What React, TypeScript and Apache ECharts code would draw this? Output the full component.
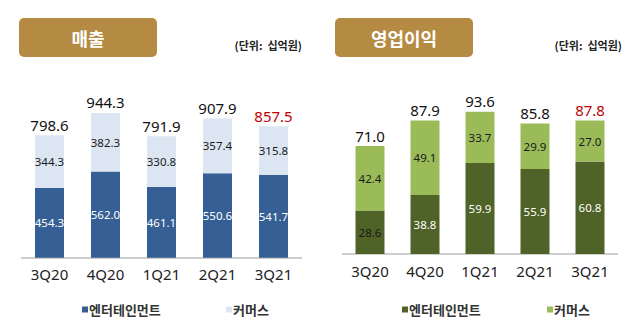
import React, { useEffect, useRef } from "react";
import * as echarts from "echarts";

const quarters = ["3Q20", "4Q20", "1Q21", "2Q21", "3Q21"];
const salesEnt = [454.3, 562.0, 461.1, 550.6, 541.7];
const salesCom = [344.3, 382.3, 330.8, 357.4, 315.8];
const salesTotal = [798.6, 944.3, 791.9, 907.9, 857.5];
const opEnt = [28.6, 38.8, 59.9, 55.9, 60.8];
const opCom = [42.4, 49.1, 33.7, 29.9, 27.0];
const opTotal = [71.0, 87.9, 93.6, 85.8, 87.8];
const seriesNames = ["엔터테인먼트", "커머스"];
const titles = ["매출", "영업이익"];
const unitText = "(단위:  십억원)";

const NUM_FONT = "Noto Sans";
const KR_FONT = "Noto Sans CJK KR";

export default function App() {
  const ref = useRef<HTMLDivElement>(null);
  useEffect(() => {
    if (!ref.current) return;
    const chart = echarts.init(ref.current, null, { renderer: "svg" });

    const fmt = (p: any) => Number(p.value).toFixed(1);

    const makeSeries = (
      idx: number,
      suffix: string,
      ent: number[],
      com: number[],
      tot: number[],
      entColor: string,
      comColor: string,
      entLabelColors: string[]
    ) => [
      {
        name: seriesNames[0] + suffix,
        type: "bar",
        xAxisIndex: idx,
        yAxisIndex: idx,
        stack: "s" + idx,
        barWidth: 29,
        itemStyle: { color: entColor },
        data: ent.map((v, i) => ({
          value: v,
          label: { color: entLabelColors[i] },
        })),
        label: {
          show: true,
          position: "inside",
          fontFamily: NUM_FONT,
          fontSize: 11.5,
          formatter: fmt,
        },
      },
      {
        name: seriesNames[1] + suffix,
        type: "bar",
        xAxisIndex: idx,
        yAxisIndex: idx,
        stack: "s" + idx,
        barWidth: 29,
        itemStyle: { color: comColor },
        data: com,
        label: {
          show: true,
          position: "inside",
          fontFamily: NUM_FONT,
          fontSize: 11.5,
          color: "#1a1a1a",
          formatter: fmt,
        },
      },
      {
        name: "합계" + idx,
        type: "bar",
        xAxisIndex: idx,
        yAxisIndex: idx,
        barWidth: 29,
        barGap: "-100%",
        itemStyle: { color: "rgba(0,0,0,0)" },
        data: tot.map((v, i) => ({
          value: v,
          label: { color: i === tot.length - 1 ? "#C00000" : "#111111" },
        })),
        label: {
          show: true,
          position: "top",
          distance: 3,
          fontFamily: NUM_FONT,
          fontSize: 15,
          formatter: fmt,
        },
        silent: true,
      },
    ];

    const xAxisBase = {
      type: "category",
      data: quarters,
      axisTick: { show: false },
      axisLine: { lineStyle: { color: "#BFBFBF", width: 1.5 } },
      axisLabel: {
        fontFamily: NUM_FONT,
        fontSize: 15,
        color: "#222222",
        margin: 9,
      },
    };

    const legendBase = {
      itemWidth: 6,
      itemHeight: 6,
      icon: "rect",
      top: 298,
      textStyle: {
        fontFamily: KR_FONT,
        fontSize: 13,
        fontWeight: "bold",
        color: "#333333",
        padding: [0, 0, 0, -4],
      },
    };

    const titleBox = (x: number, w: number, text: string) => ({
      type: "group",
      children: [
        {
          type: "rect",
          shape: { x, y: 18, width: w, height: 39, r: 5 },
          style: { fill: "#B58A42" },
        },
        {
          type: "text",
          x: x + w / 2,
          y: 37.5,
          style: {
            text,
            fill: "#ffffff",
            font: `bold 18px "${KR_FONT}"`,
            textAlign: "center",
            textVerticalAlign: "middle",
          },
        },
      ],
    });

    const unit = (x: number) => ({
      type: "text",
      x,
      y: 45,
      style: {
        text: unitText,
        fill: "#222222",
        font: `bold 11px "${KR_FONT}"`,
        textAlign: "right",
        textVerticalAlign: "middle",
      },
    });

    chart.setOption({
      animation: false,
      backgroundColor: "#ffffff",
      grid: [
        { left: 21.5, width: 280, top: 104.4, bottom: 73.3 },
        { left: 342.5, width: 275, top: 102, bottom: 77 },
      ],
      xAxis: [
        { ...xAxisBase, gridIndex: 0 },
        { ...xAxisBase, gridIndex: 1 },
      ],
      yAxis: [
        { type: "value", gridIndex: 0, min: 0, max: 1000, show: false },
        { type: "value", gridIndex: 1, min: 0, max: 100, show: false },
      ],
      legend: [
        { ...legendBase, left: 77, data: [seriesNames[0]] },
        { ...legendBase, left: 221, data: [seriesNames[1]] },
        { ...legendBase, left: 397, data: [seriesNames[0] + " "] },
        { ...legendBase, left: 542, data: [seriesNames[1] + " "] },
      ],
      graphic: [
        titleBox(19, 138, titles[0]),
        titleBox(335, 138, titles[1]),
        unit(302),
        unit(622),
      ],
      series: [
        ...makeSeries(0, "", salesEnt, salesCom, salesTotal, "#355F95", "#DCE6F2", salesEnt.map(() => "#ffffff")),
        ...makeSeries(
          1,
          " ",
          opEnt,
          opCom,
          opTotal,
          "#4F6228",
          "#9BBB59",
          opEnt.map((_, i) => (i === 0 ? "#1a1a1a" : "#ffffff"))
        ),
      ],
    });

    return () => chart.dispose();
  }, []);

  return (
    <div
      ref={ref}
      style={{ position: "absolute", left: 0, top: 0, width: 640, height: 331 }}
    />
  );
}
